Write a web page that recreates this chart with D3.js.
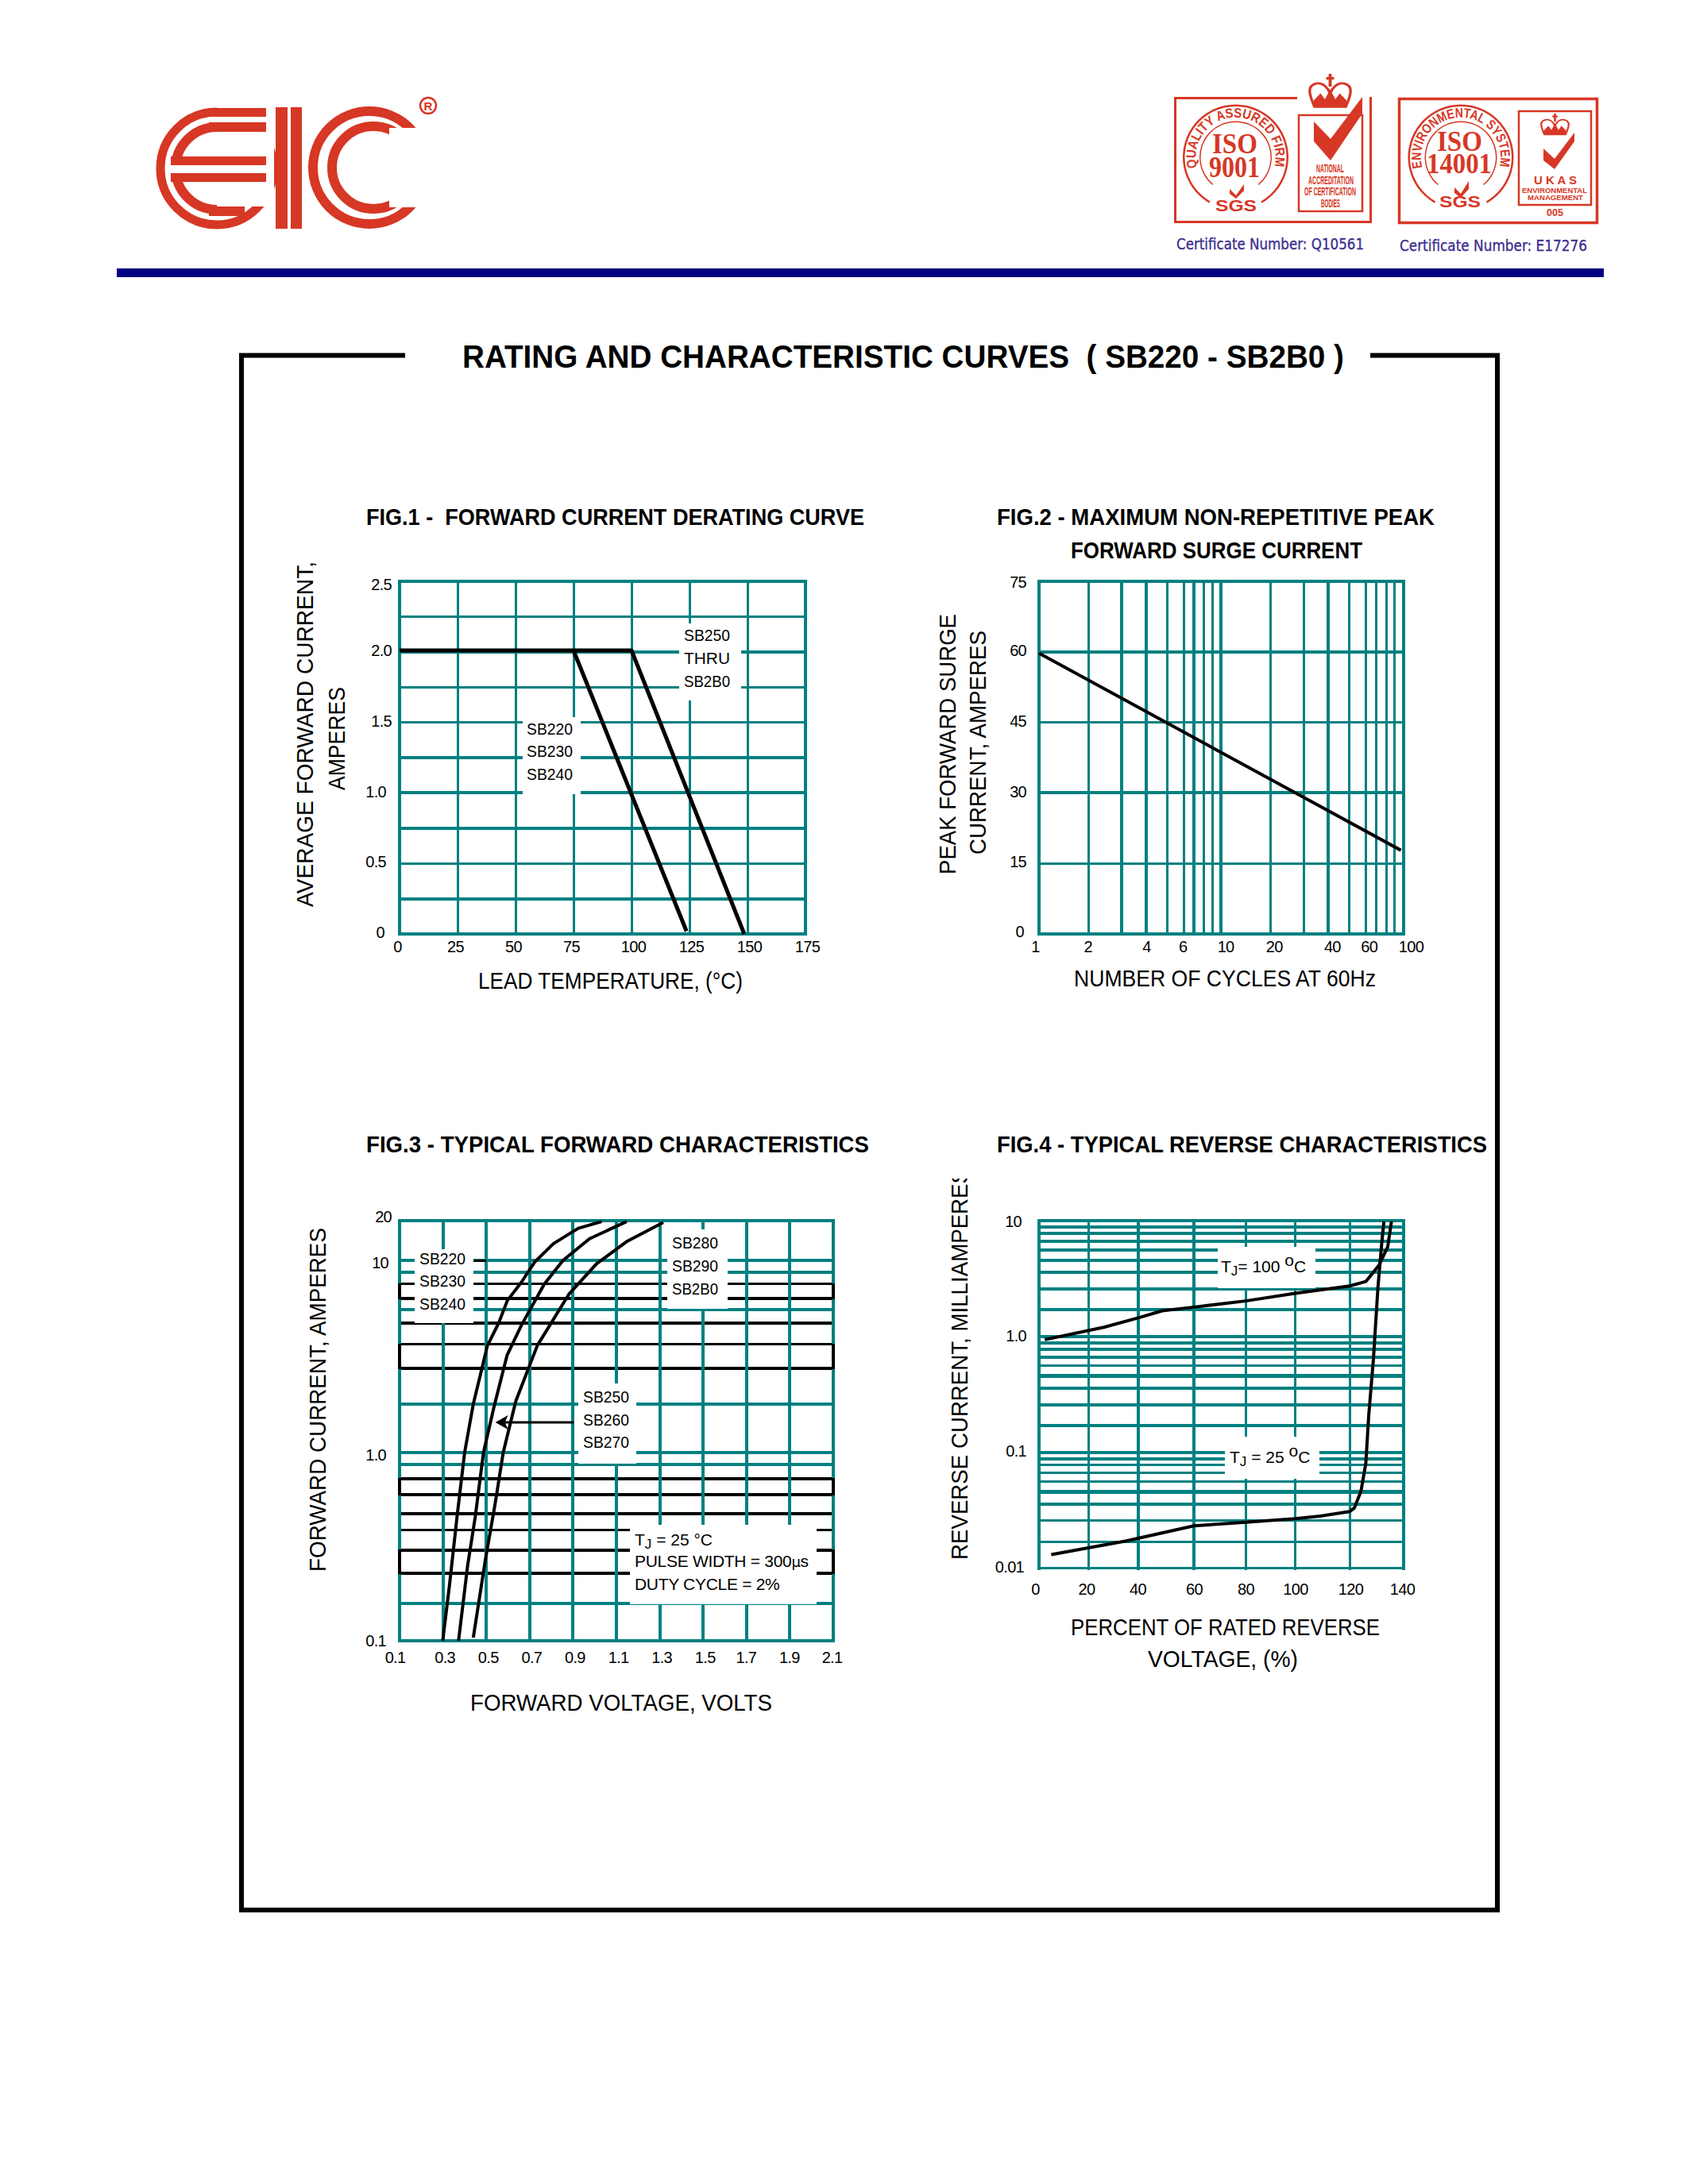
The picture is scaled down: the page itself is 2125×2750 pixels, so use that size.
<!DOCTYPE html>
<html><head><meta charset="utf-8">
<script src="https://cdnjs.cloudflare.com/ajax/libs/d3/7.8.5/d3.min.js"></script>
<style>html,body{margin:0;padding:0;background:#fff}svg{display:block}text{font-family:"Liberation Sans",Arial,sans-serif;fill:#000}</style>
</head><body><svg id="c" width="2125" height="2750" viewBox="0 0 2125 2750"></svg>
<script>
// ---------- data ----------
const fig1XTicks=[0,25,50,75,100,125,150,175];
const fig1YTicks=[0,0.5,1.0,1.5,2.0,2.5];
const fig1YGrid=[0,0.25,0.5,0.75,1,1.25,1.5,1.75,2,2.25,2.5];
const fig1YThin=[0.5,1.5,1.75,2.25];
const fig1LowVoltage=[[0,2.01],[75,2.01],[123.7,0.02]];
const fig1HighVoltage=[[75,2.01],[100,2.01],[148.6,0]];

const fig2XGrid=[1,2,3,4,5,6,7,8,9,10,20,30,40,50,60,70,80,90,100];
const fig2XThin=[2,5,6,8,9,20,30,50,60,70,80,90];
const fig2XTicks=[1,2,4,6,10,20,40,60,100];
const fig2YTicks=[0,15,30,45,60,75];
const fig2YThin=[15,45];
const fig2Surge=[[1,59.7],[97,17.8]];

const fig3XTicks=[0.1,0.3,0.5,0.7,0.9,1.1,1.3,1.5,1.7,1.9,2.1];
const fig3YGrid=[0.1,0.2,0.3,0.4,0.5,0.6,0.7,0.8,0.9,1,2,3,4,5,6,7,8,9,10,20];
const fig3YTicks=[0.1,1,10,20];
const fig3YBlack=[0.3,0.4,0.5,0.6,0.7,0.8,3,4,5,7,8];
const fig3YThin=[0.5,4,8];
const fig3BlackPairs=[[0.3,0.4],[0.7,0.8],[3,4],[7,8]];
const fig3SB220=[[0.299,0.1],[0.33,0.254],[0.365,0.577],[0.4,1],[0.44,2],[0.505,3.93],[0.557,5],[0.597,6.8],[0.662,8.13],[0.723,9.85],[0.81,13.4],[0.924,17.5],[1.032,19.7]];
const fig3SB250=[[0.372,0.1],[0.414,0.331],[0.449,0.577],[0.487,1],[0.535,1.91],[0.596,3.51],[0.662,4.89],[0.767,7.97],[0.854,10],[0.976,14.6],[1.147,19.7]];
const fig3SB280=[[0.44,0.106],[0.496,0.357],[0.54,0.644],[0.578,1],[0.636,2.07],[0.735,3.93],[0.88,7.26],[1.008,9.7],[1.151,14],[1.316,19.4]];
const fig3Arrow=[[0.903,1.54],[0.56,1.54]];

const fig4XTicks=[0,20,40,60,80,100,120,140];
const fig4XThin=[20,80,100,120];
const fig4YGrid=[0.01,0.02,0.03,0.04,0.05,0.06,0.07,0.08,0.09,0.1,0.2,0.3,0.4,0.5,0.6,0.7,0.8,0.9,1,2,3,4,5,6,7,8,9,10];
const fig4YThin=[0.01,0.02,0.03,0.06,0.07,0.08,0.6];
const fig4YHeavy=[0.05,0.5];
const fig4YTicks=[0.01,0.1,1,10];
const fig4T100=[[2.3,0.95],[26.1,1.27],[39.7,1.61],[48.6,1.94],[60,2.1],[80,2.37],[100,2.75],[120,3.16],[126,3.41],[130.9,4.58],[134.1,6.33],[135.5,9.87]];
const fig4T25=[[4.9,0.0143],[35.2,0.0204],[60,0.0271],[80,0.029],[100,0.031],[109.2,0.0324],[120,0.0351],[121.8,0.0375],[124.2,0.0505],[126,0.0823],[127.1,0.247],[128.8,0.67],[130.5,3.1],[131.9,6.78],[132.7,9.87]];

// ---------- helpers ----------
const TEAL="#008080", RED="#d73725", NAVY="#000080", INK="#3b2f8f";
const svg=d3.select("#c");
const defs=svg.append("defs");
function txt(p,s,x,y,o={}){
  const t=p.append("text").attr("x",x).attr("y",y).text(s)
    .attr("font-size",o.size||21).attr("text-anchor",o.anchor||"start");
  if(o.weight)t.attr("font-weight",o.weight);
  if(o.fill)t.style("fill",o.fill);
  if(o.family)t.style("font-family",o.family);
  if(o.len)t.attr("textLength",o.len).attr("lengthAdjust","spacingAndGlyphs");
  if(o.spacing!=null)t.style("letter-spacing",o.spacing+"px");
  return t;
}
function vtxt(p,s,cx,yStart,len,size){ // rotated, reads bottom to top
  return p.append("text").attr("transform",`translate(${cx},${yStart}) rotate(-90)`).text(s)
    .attr("font-size",size).attr("textLength",len).attr("lengthAdjust","spacingAndGlyphs");
}
// xw / yw give the stroke width of each grid value
function grid(g,x,y,xv,yv,xw,yw,yc){
  const xa=x(xv[0]),xb=x(xv[xv.length-1]),ya=y(yv[0]),yb=y(yv[yv.length-1]);
  g.append("g").selectAll("line").data(yv).join("line")
    .attr("x1",xa-2).attr("x2",xb+2).attr("y1",d=>y(d)).attr("y2",d=>y(d))
    .attr("stroke",d=>yc?yc(d):TEAL).attr("stroke-width",yw).attr("shape-rendering","crispEdges");
  g.append("g").selectAll("line").data(xv).join("line")
    .attr("x1",d=>x(d)).attr("x2",d=>x(d)).attr("y1",ya+2).attr("y2",yb-2)
    .attr("stroke",TEAL).attr("stroke-width",xw).attr("shape-rendering","crispEdges");
}
function patch(g,a,b,c,d){g.append("rect").attr("x",a).attr("y",b).attr("width",c-a).attr("height",d-b).attr("fill","#fff");}
function curve(g,x,y,data,w=4){
  g.append("path").attr("d",d3.line().x(d=>x(d[0])).y(d=>y(d[1]))(data)).attr("fill","none")
   .attr("stroke","#000").attr("stroke-width",w).attr("stroke-linejoin","round");
}
function axisLabels(g,axis,tx,ty,shift,size=20){
  const a=g.append("g").attr("transform",`translate(${tx},${ty})`).call(axis);
  a.select(".domain").remove();a.selectAll("line").remove();
  a.selectAll("text").attr("font-size",size).style("font-family",'"Liberation Sans",Arial,sans-serif')
   .style("fill","#000").style("letter-spacing","-0.7px").attr("dy",null).attr("y",null).attr("x",null)
   .attr("dominant-baseline","middle").attr("transform",d=>{const s=shift(d);return `translate(${s[0]},${s[1]+1.5})`;});
}
const bottom=(s,v,f)=>d3.axisBottom(s).tickValues(v).tickFormat(f).tickSize(0).tickPadding(0);
const left=(s,v,f)=>d3.axisLeft(s).tickValues(v).tickFormat(f).tickSize(0).tickPadding(0);

// ---------- header ----------
const head=svg.append("g");
const logo=head.append("g");
[[273,212,71,11],[273,212,52,12],[465,211,71,12],[470,211,52,12]].forEach(r=>
  logo.append("circle").attr("cx",r[0]).attr("cy",r[1]).attr("r",r[2]).attr("fill","none").attr("stroke",RED).attr("stroke-width",r[3]));
patch(logo,273,125,345,260);       // open side of the E
patch(logo,490,161,545,261);       // open side of the C
patch(logo,215,208,340,218);
[[263,136,335,147],[263,154,335,166],[215,197,335,208],[215,218,335,229],[263,260,308,272],[347,135,362,288],[366,135,380,288]].forEach(r=>
  logo.append("rect").attr("x",r[0]).attr("y",r[1]).attr("width",r[2]-r[0]).attr("height",r[3]-r[1]).attr("fill",RED));
logo.append("circle").attr("cx",539).attr("cy",133).attr("r",10).attr("fill","none").attr("stroke",RED).attr("stroke-width",2.5);
logo.append("text").attr("x",539).attr("y",138.5).attr("font-size",15).attr("font-weight","bold").attr("text-anchor","middle").style("fill",RED).text("R");
head.append("rect").attr("x",147).attr("y",338).attr("width",1872).attr("height",11).attr("fill",NAVY);

function crown(p,x,y,w,h){
  const c=p.append("g").attr("transform",`translate(${x},${y}) scale(${w/100},${h/100})`);
  c.append("path").attr("d","M14 88C2 55 -4 32 18 26C34 22 45 38 50 52C55 38 66 22 82 26C104 32 98 55 86 88Z")
    .attr("fill","none").attr("stroke",RED).attr("stroke-width",6);
  c.append("path").attr("d","M12 72L28 52L38 68L50 42L62 68L72 52L88 72L86 90H14Z").attr("fill",RED);
  c.append("path").attr("d","M50 0V34M41 12H59").attr("stroke",RED).attr("stroke-width",7);
}
function seal(p,id,cx,cy,word,size){
  const arc=d3.arc();
  [[64,66.5],[44,45.5]].forEach(r=>p.append("path").attr("transform",`translate(${cx},${cy})`)
    .attr("d",arc({innerRadius:r[0],outerRadius:r[1],startAngle:r[0]>50?-2.62:-2.45,endAngle:r[0]>50?2.62:2.45})).attr("fill",RED));
  defs.append("path").attr("id",id).attr("d",`M${cx-48.5} ${cy+13}A50.2 50.2 0 1 1 ${cx+48.5} ${cy+13}`);
  p.append("text").attr("font-size",size).attr("font-weight","bold").style("fill",RED)
    .append("textPath").attr("href","#"+id).attr("textLength",182).attr("lengthAdjust","spacingAndGlyphs").text(word);
}
function check(p,pts){p.append("polygon").attr("points",pts.map(d=>d.join(",")).join(" ")).attr("fill",RED);}
const serif={family:'"Liberation Serif",serif',weight:"bold",fill:RED};

// badge 1
const b1=head.append("g");
b1.append("path").attr("d","M1633 123.5H1479.5V279.5H1725.5V122").attr("fill","none").attr("stroke",RED).attr("stroke-width",3);
b1.append("rect").attr("x",1635).attr("y",145).attr("width",80).attr("height",121).attr("fill","none").attr("stroke",RED).attr("stroke-width",2.5);
crown(b1,1647,93,55,47);
check(b1,[[1654,153],[1675,175],[1715,122],[1715,143],[1675,202],[1654,178]]);
seal(b1,"s1",1555.5,198,"QUALITY ASSURED FIRM",17);
txt(b1,"ISO",1526,193,{size:36,len:57,...serif});
txt(b1,"9001",1522,223,{size:37,len:64,...serif});
check(b1,[[1548,238],[1556,246],[1566,232],[1566,240],[1556,250],[1548,244]]);
txt(b1,"SGS",1530,266,{size:21,weight:"bold",len:52,fill:RED});
[["NATIONAL",1657,217,35],["ACCREDITATION",1647,232,57],["OF CERTIFICATION",1642,246,65],["BODIES",1663,261,24]].forEach(r=>
  txt(b1,r[0],r[1],r[2],{size:15,weight:"bold",len:r[3],fill:RED}));
txt(b1,"Certificate Number: Q10561",1481,314,{size:19,len:236,family:'"DejaVu Sans",sans-serif',fill:INK}).style("stroke",INK).style("stroke-width",0.35);

// badge 2
const b2=head.append("g");
b2.append("rect").attr("x",1761.5).attr("y",124.5).attr("width",249).attr("height",156).attr("fill","none").attr("stroke",RED).attr("stroke-width",3.5);
b2.append("rect").attr("x",1912).attr("y",140).attr("width",91).attr("height",118).attr("fill","none").attr("stroke",RED).attr("stroke-width",2.5);
crown(b2,1939,143,37,30);
check(b2,[[1943,187],[1957,200],[1982,167],[1982,178],[1957,213],[1943,202]]);
seal(b2,"s2",1839,198,"ENVIRONMENTAL SYSTEM",17);
txt(b2,"ISO",1809,190,{size:36,len:57,...serif});
txt(b2,"14001",1796,218,{size:36,len:82,...serif});
check(b2,[[1831,236],[1839,244],[1849,228],[1849,238],[1839,249],[1831,243]]);
txt(b2,"SGS",1812,261,{size:21,weight:"bold",len:52,fill:RED});
txt(b2,"U K A S",1931,232,{size:15,weight:"bold",len:54,fill:RED});
txt(b2,"ENVIRONMENTAL",1916,243,{size:9,weight:"bold",len:82,fill:RED});
txt(b2,"MANAGEMENT",1923,252,{size:9,weight:"bold",len:70,fill:RED});
txt(b2,"005",1947,272,{size:13,weight:"bold",len:21,fill:RED});
txt(b2,"Certificate Number: E17276",1762,316,{size:19,len:236,family:'"DejaVu Sans",sans-serif',fill:INK}).style("stroke",INK).style("stroke-width",0.35);

// ---------- frame and main title ----------
const frame=svg.append("g");
frame.append("path").attr("d","M510 447.5H304V2405H1885V447.5H1725").attr("fill","none").attr("stroke","#000").attr("stroke-width",6);
txt(frame,"RATING AND CHARACTERISTIC CURVES  ( SB220 - SB2B0 )",582,463,{size:41,weight:"bold",len:1110}).attr("xml:space","preserve");

// ---------- FIG 1 ----------
{
  const g=svg.append("g");
  const x=d3.scaleLinear().domain([0,175]).range([503,1014]);
  const y=d3.scaleLinear().domain([0,2.5]).range([1176,732]);
  txt(g,"FIG.1 -  FORWARD CURRENT DERATING CURVE",461,661,{size:30,weight:"bold",len:627}).attr("xml:space","preserve");
  grid(g,x,y,fig1XTicks,fig1YGrid,d=>d===0||d===175?4:3,d=>fig1YThin.includes(d)?3:4);
  patch(g,855,785,933,882);patch(g,658,903,731,1000);
  curve(g,x,y,fig1LowVoltage,5);curve(g,x,y,fig1HighVoltage,5);
  [["SB250",807],["THRU",836],["SB2B0",865]].forEach(r=>txt(g,r[0],861,r[1],{len:58}));
  [["SB220",925],["SB230",953],["SB240",982]].forEach(r=>txt(g,r[0],663,r[1],{len:58}));
  axisLabels(g,bottom(x,fig1XTicks,d3.format("d")),0,1192,d=>[d<100?-3:2,0]);
  axisLabels(g,left(y,fig1YTicks,d=>d===0?"0":d3.format(".1f")(d)),493,0,d=>[d===0?-9:d<=1?-7:0,d===2.5?4:-2]);
  txt(g,"LEAD TEMPERATURE, (°C)",602,1245,{size:29,len:333});
  vtxt(g,"AVERAGE FORWARD CURRENT,",394,1142,435,29);
  vtxt(g,"AMPERES",434,995,130,29);
}
// ---------- FIG 2 ----------
{
  const g=svg.append("g");
  const pos=[0,.1354,.2271,.2938,.3521,.3979,.424,.4531,.476,.498,.6354,.726,.7927,.851,.8958,.924,.9531,.974,1];
  const x=d3.scaleLog().domain(fig2XGrid).range(pos.map(f=>1308+f*459));
  const y=d3.scaleLinear().domain([0,75]).range([1176,732]);
  txt(g,"FIG.2 - MAXIMUM NON-REPETITIVE PEAK",1255,661,{size:30,weight:"bold",len:551});
  txt(g,"FORWARD SURGE CURRENT",1348,703,{size:30,weight:"bold",len:367});
  grid(g,x,y,fig2XGrid,fig2YTicks,d=>fig2XThin.includes(d)?3:4,d=>fig2YThin.includes(d)?3:4);
  curve(g,x,y,fig2Surge);
  const off={1:-5,2:-1,4:0,6:-2,10:6,20:4,40:5,60:4,100:9};
  axisLabels(g,bottom(x,fig2XTicks,d3.format("d")),0,1192,d=>[off[d],0]);
  axisLabels(g,left(y,fig2YTicks,d3.format("d")),1292,0,d=>[d===0?-3:0,d===0?-3:d===75?1:-2]);
  txt(g,"NUMBER OF CYCLES AT 60Hz",1352,1242,{size:29,len:380});
  vtxt(g,"PEAK FORWARD SURGE",1203,1101,328,29);
  vtxt(g,"CURRENT, AMPERES",1241,1076,282,29);
}
// ---------- FIG 3 ----------
{
  const g=svg.append("g");
  const px=[2066,2018.5,1981,1952,1926.5,1905.5,1882,1861.5,1844,1829,1768,1723,1692.5,1666,1649,1635,1616.5,1602,1587,1537];
  const x=d3.scaleLinear().domain([0.1,2.1]).range([503,1049]);
  const y=d3.scaleLog().domain(fig3YGrid).range(px);
  txt(g,"FIG.3 - TYPICAL FORWARD CHARACTERISTICS",461,1451,{size:30,weight:"bold",len:633});
  grid(g,x,y,fig3XTicks,fig3YGrid,4,d=>fig3YThin.includes(d)?3:4,d=>fig3YBlack.includes(d)?"#000":TEAL);
  const edges=g.append("g");
  [x(0.1),x(2.1)].forEach(ex=>fig3BlackPairs.forEach(p=>edges.append("line").attr("x1",ex).attr("x2",ex).attr("y1",y(p[0])+1).attr("y2",y(p[1])-1).attr("stroke","#000").attr("stroke-width",4).attr("shape-rendering","crispEdges")));
  patch(g,522,1573,596,1666);patch(g,840,1548,916,1648);patch(g,728,1742,801,1843);patch(g,793,1920,1028,2020);
  g.append("line").attr("x1",596).attr("x2",612).attr("y1",y(10)).attr("y2",y(10)).attr("stroke","#000").attr("stroke-width",3).attr("shape-rendering","crispEdges");
  curve(g,x,y,fig3SB220);curve(g,x,y,fig3SB250);curve(g,x,y,fig3SB280);
  // arrow
  const a=fig3Arrow;
  g.append("line").attr("x1",x(a[0][0])).attr("y1",y(a[0][1])).attr("x2",x(a[1][0])).attr("y2",y(a[1][1])).attr("stroke","#000").attr("stroke-width",3);
  const ax=x(a[1][0]),ay=y(a[1][1]);
  g.append("path").attr("transform",`translate(${ax},${ay})`).attr("d","M-5 0L11 -9L7 0L11 9Z").attr("fill","#000");
  [["SB220",1592],["SB230",1620],["SB240",1649]].forEach(r=>txt(g,r[0],528,r[1],{len:58}));
  [["SB280",1572],["SB290",1601],["SB2B0",1630]].forEach(r=>txt(g,r[0],846,r[1],{len:58}));
  [["SB250",1766],["SB260",1795],["SB270",1823]].forEach(r=>txt(g,r[0],734,r[1],{len:58}));
  const tj=txt(g,"T",799,1946,{}); tj.append("tspan").attr("dy",4).attr("font-size",17).text("J");
  tj.append("tspan").attr("dy",-4).text(" = 25 °C");
  const pw=txt(g,"PULSE WIDTH = 300",799,1973,{spacing:-0.3}); pw.append("tspan").style("font-family",'"DejaVu Sans",sans-serif').attr("font-size",18).text("µ"); pw.append("tspan").text("s");
  txt(g,"DUTY CYCLE = 2%",799,2002,{spacing:-0.3});
  const off={0.1:-6,2.1:-2,1.7:-1,1.9:-1};
  axisLabels(g,bottom(x,fig3XTicks,d3.format(".1f")),0,2087,d=>[off[d]??2,0]);
  axisLabels(g,left(y,fig3YTicks,d=>d<2?d3.format(".1f")(d):d3.format("d")(d)),0,0,d=>[d===20?493:d===10?489:486,d===20?-5:d===10?3:d===1?3:0]);
  txt(g,"FORWARD VOLTAGE, VOLTS",592,2154,{size:29,len:380});
  vtxt(g,"FORWARD CURRENT, AMPERES",410,1979,433,29);
}
// ---------- FIG 4 ----------
{
  const g=svg.append("g");
  const px=[1974.5,1941.5,1914.5,1894,1878.5,1865.5,1854.5,1844.5,1837,1829,1795,1769,1748,1732.5,1719.5,1709,1699,1691,1683,1649,1623,1602,1587,1574,1563,1553,1545,1537];
  const x=d3.scaleLinear().domain(fig4XTicks).range([1308,1370.5,1433,1503,1568,1630.5,1699,1767]);
  const y=d3.scaleLog().domain(fig4YGrid).range(px);
  txt(g,"FIG.4 - TYPICAL REVERSE CHARACTERISTICS",1255,1451,{size:30,weight:"bold",len:617});
  grid(g,x,y,fig4XTicks,fig4YGrid,d=>fig4XThin.includes(d)?3:4,d=>fig4YHeavy.includes(d)?5:fig4YThin.includes(d)?3:4);
  patch(g,1533,1570,1656,1622);patch(g,1542,1809,1661,1862);
  curve(g,x,y,fig4T100);curve(g,x,y,fig4T25);
  const l1=txt(g,"T",1537,1602,{}); l1.append("tspan").attr("dy",4).attr("font-size",17).text("J");
  l1.append("tspan").attr("dy",-4).text("= 100 ");l1.append("tspan").attr("dy",-8).text("o");l1.append("tspan").attr("dy",8).text("C");
  const l2=txt(g,"T",1548,1842,{}); l2.append("tspan").attr("dy",4).attr("font-size",17).text("J");
  l2.append("tspan").attr("dy",-4).text(" = 25 ");l2.append("tspan").attr("dy",-8).text("o");l2.append("tspan").attr("dy",8).text("C");
  const off={0:-5,20:-3,40:-1,60:0,80:0,100:0,120:1,140:-2};
  axisLabels(g,bottom(x,fig4XTicks,d3.format("d")),0,2001,d=>[off[d],0]);
  axisLabels(g,left(y,fig4YTicks,d=>d===0.01?"0.01":d===0.1?"0.1":d===1?"1.0":"10"),0,0,d=>[d===0.01?1289:d===0.1?1292:d===1?1292:1286,d===0.01?-2:d===0.1?-2:d===1?-1:1]);
  txt(g,"PERCENT OF RATED REVERSE",1348,2059,{size:29,len:389});
  txt(g,"VOLTAGE, (%)",1445,2099,{size:29,len:189});
  defs.append("clipPath").attr("id","c4").append("rect").attr("x",1180).attr("y",1484).attr("width",60).attr("height",500);
  g.append("g").attr("clip-path","url(#c4)").call(s=>vtxt(s,"REVERSE CURRENT, MILLIAMPERES",1218,1964,492,29));
}
</script></body></html>
